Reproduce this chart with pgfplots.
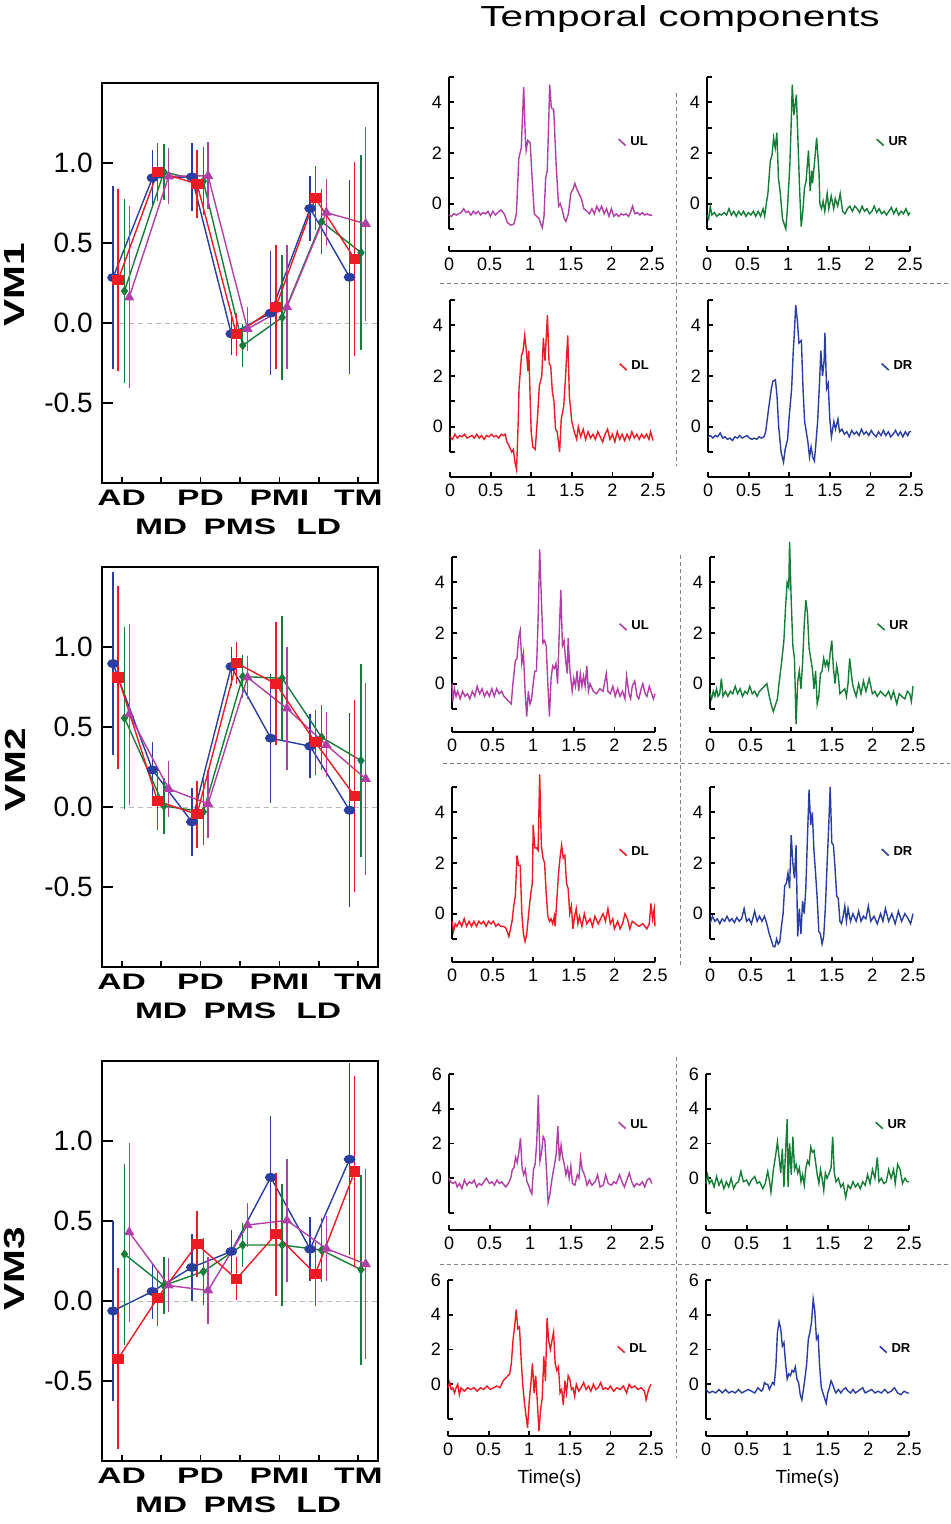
\documentclass[border=0pt]{standalone}
\usepackage{fontspec}
\setmainfont{Liberation Sans}
\usepackage{graphicx}
\usepackage{pgfplots}
\pgfplotsset{compat=1.18}
\definecolor{vblue}{RGB}{40,62,160}
\definecolor{vred}{RGB}{237,28,36}
\definecolor{vgreen}{RGB}{22,125,55}
\definecolor{vmag}{RGB}{178,62,168}
\newcommand\wide[1]{\scalebox{1.5}[1]{#1}}
\pgfplotsset{
  vm/.style={
    scale only axis, width=138pt, height=200pt,
    xmin=0.5, xmax=7.5, ymin=-1, ymax=1.5,
    xtick={1,2,3,4,5,6,7},
    xticklabels={{\wide{AD}\\\phantom{M}},{\phantom{M}\\\wide{MD}},{\wide{PD}\\\phantom{M}},{\phantom{M}\\\wide{PMS}},{\wide{PMI}\\\phantom{M}},{\phantom{M}\\\wide{LD}},{\wide{TM}\\\phantom{M}}},
    xticklabel style={font=\fontsize{11.2}{14.5}\selectfont\bfseries, align=center, anchor=north, inner sep=0pt, yshift=-3.5pt},
    ytick={-0.5,0,0.5,1}, yticklabels={-0.5,0.0,0.5,1.0},
    yticklabel style={font=\fontsize{14}{16}\selectfont, inner sep=0pt, xshift=-4.5pt},
    tick align=inside, xtick pos=left, ytick pos=left,
    major tick length=5.5pt,
    xtick style={/pgfplots/major tick length=3pt},
    axis line style={line width=1pt},
    tick style={line width=0.9pt, black},
    every axis plot/.append style={line width=0.7pt},
  },
  eb/.style={error bars/.cd, y dir=both, y explicit, error bar style={line width=0.7pt, solid}, error mark options={line width=0.7pt, mark size=1.5pt}},
  bl/.style={vblue, mark=*, mark size=1.9pt, mark options={solid, xscale=1.35}},
  rd/.style={vred, mark=square*, mark size=2.2pt, mark options={solid, xscale=1.15}},
  gr/.style={vgreen, mark=diamond*, mark size=1.9pt, mark options={solid}},
  mg/.style={vmag, mark=triangle*, mark size=2.3pt, mark options={solid}},
  zl/.style={gray!55, dash pattern=on 2.5pt off 2pt, line width=0.5pt, forget plot},
  tc/.style={
    scale only axis, width=101.5pt,
    xmin=0, xmax=2.5, clip=false,
    axis lines=left, axis line style={-, line width=0.8pt},
    axis x line shift=11.5pt,
    xtick={0,0.5,1,1.5,2,2.5}, xticklabels={0,0.5,1,1.5,2,2.5},
    tick align=inside, major tick length=2.5pt,
    tick style={line width=0.9pt, black},
    ticklabel style={font=\fontsize{9}{10}\selectfont},
    legend style={draw=none, fill=none, font=\fontsize{6.5}{7}\selectfont\bfseries, anchor=west, inner sep=0pt},
    legend image code/.code={\draw[#1, line width=0.8pt] (0pt,1.6pt) -- (3.5pt,-1.6pt);},
    every axis plot/.append style={line width=0.7pt},
  },
  tc12/.style={tc, height=76pt, ymin=-1, ymax=5, ytick={-1,0,1,2,3,4,5}, yticklabels={,0,,2,,4,}},
  tc3/.style={tc, height=69.5pt, ymin=-2, ymax=6, ytick={-2,0,2,4,6}, yticklabels={,0,2,4,6}, axis x line shift=8.5pt},
}
\begin{document}
\begin{tikzpicture}
\path[use as bounding box] (0,0) rectangle (475pt,-762pt);

% ---------------- VM1 ----------------
\begin{axis}[vm, at={(51pt,-241.5pt)}, anchor=south west]
\addplot[zl] coordinates {(0.95,0) (7.5,0)};
\addplot[bl, eb] coordinates {(0.78,0.284)+-(0,0.555) (1.78,0.907)+-(0,0.155) (2.78,0.913)+-(0,0.193) (3.78,-0.068)+-(0,0.115) (4.78,0.062)+-(0,0.37) (5.78,0.716)+-(0,0.185) (6.78,0.286)+-(0,0.588)};
\addplot[gr, eb] coordinates {(1.07,0.2)+-(0,0.555) (2.07,0.944)+-(0,0.155) (3.07,0.886)+-(0,0.195) (4.07,-0.14)+-(0,0.115) (5.07,0.035)+-(0,0.37) (6.07,0.633)+-(0,0.185) (7.07,0.44)+-(0,0.59)};
\addplot[mg, eb] coordinates {(1.19,0.16)+-(0,0.55) (2.19,0.917)+-(0,0.155) (3.19,0.92)+-(0,0.19) (4.19,-0.037)+-(0,0.117) (5.19,0.1)+-(0,0.37) (6.19,0.69)+-(0,0.19) (7.19,0.62)+-(0,0.588)};
\addplot[rd, eb] coordinates {(0.91,0.27)+-(0,0.55) (1.91,0.944)+-(0,0.16) (2.91,0.87)+-(0,0.195) (3.91,-0.07)+-(0,0.115) (4.91,0.1)+-(0,0.37) (5.91,0.78)+-(0,0.18) (6.91,0.4)+-(0,0.59)};
\end{axis}

% ---------------- VM2 ----------------
\begin{axis}[vm, at={(51pt,-483.5pt)}, anchor=south west]
\addplot[zl] coordinates {(0.95,0) (7.5,0)};
\addplot[bl, eb] coordinates {(0.78,0.896)+-(0,0.554) (1.78,0.232)+-(0,0.156) (2.78,-0.093)+-(0,0.193) (3.78,0.878)+-(0,0.105) (4.78,0.43)+-(0,0.384) (5.78,0.38)+-(0,0.18) (6.78,-0.02)+-(0,0.587)};
\addplot[gr, eb] coordinates {(1.07,0.556)+-(0,0.552) (2.07,0.006)+-(0,0.158) (3.07,-0.03)+-(0,0.189) (4.07,0.815)+-(0,0.115) (5.07,0.805)+-(0,0.367) (6.07,0.436)+-(0,0.185) (7.07,0.29)+-(0,0.582)};
\addplot[mg, eb] coordinates {(1.19,0.58)+-(0,0.547) (2.19,0.114)+-(0,0.155) (3.19,0.02)+-(0,0.193) (4.19,0.81)+-(0,0.114) (5.19,0.616)+-(0,0.368) (6.19,0.388)+-(0,0.184) (7.19,0.176)+-(0,0.58)};
\addplot[rd, eb] coordinates {(0.91,0.81)+-(0,0.553) (1.91,0.037)+-(0,0.16) (2.91,-0.046)+-(0,0.19) (3.91,0.9)+-(0,0.115) (4.91,0.77)+-(0,0.365) (5.91,0.405)+-(0,0.185) (6.91,0.068)+-(0,0.58)};
\end{axis}

% ---------------- VM3 ----------------
\begin{axis}[vm, at={(51pt,-730.5pt)}, anchor=south west]
\addplot[zl] coordinates {(0.95,0) (7.5,0)};
\addplot[bl, eb] coordinates {(0.78,-0.062)+-(0,0.545) (1.78,0.06)+-(0,0.153) (2.78,0.21)+-(0,0.19) (3.78,0.31)+-(0,0.114) (4.78,0.773)+-(0,0.365) (5.78,0.324)+-(0,0.181) (6.78,0.886)+-(0,0.58)};
\addplot[gr, eb] coordinates {(1.07,0.293)+-(0,0.547) (2.07,0.097)+-(0,0.157) (3.07,0.184)+-(0,0.191) (4.07,0.35)+-(0,0.118) (5.07,0.35)+-(0,0.362) (6.07,0.318)+-(0,0.179) (7.07,0.196)+-(0,0.575)};
\addplot[mg, eb] coordinates {(1.19,0.43)+-(0,0.54) (2.19,0.097)+-(0,0.15) (3.19,0.066)+-(0,0.188) (4.19,0.475)+-(0,0.117) (5.19,0.504)+-(0,0.364) (6.19,0.328)+-(0,0.185) (7.19,0.231)+-(0,0.577)};
\addplot[rd, eb] coordinates {(0.91,-0.36)+-(0,0.545) (1.91,0.019)+-(0,0.155) (2.91,0.355)+-(0,0.189) (3.91,0.138)+-(0,0.116) (4.91,0.417)+-(0,0.367) (5.91,0.169)+-(0,0.183) (6.91,0.81)+-(0,0.58)};
\end{axis}

% ---------------- VM1 temporal ----------------
\begin{axis}[tc12, at={(224.5pt,-114.5pt)}, anchor=south west, axis x line shift=11pt, legend style={at={(0.83,0.57)}}]
\addplot[vmag] coordinates {(0,-0.45)(0.03,-0.5)(0.06,-0.4)(0.09,-0.45)(0.12,-0.4)(0.15,-0.35)(0.18,-0.2)(0.21,-0.35)(0.24,-0.3)(0.27,-0.45)(0.3,-0.3)(0.33,-0.4)(0.36,-0.3)(0.39,-0.45)(0.42,-0.35)(0.45,-0.4)(0.48,-0.3)(0.51,-0.5)(0.54,-0.3)(0.57,-0.45)(0.6,-0.35)(0.64,-0.25)(0.68,-0.4)(0.72,-0.75)(0.76,-0.85)(0.8,-0.8)(0.83,-0.4)(0.86,1.8)(0.89,2.2)(0.92,4.6)(0.94,2.6)(0.95,2.1)(0.97,2.5)(1.0,2.4)(1.02,1.2)(1.05,-0.4)(1.08,-0.5)(1.11,-0.6)(1.13,-0.8)(1.15,-0.95)(1.17,-0.5)(1.19,1.0)(1.21,1.3)(1.23,3.5)(1.24,4.7)(1.26,3.8)(1.29,3.7)(1.32,1.5)(1.35,-0.1)(1.37,0.0)(1.39,-0.2)(1.42,-0.6)(1.44,-0.7)(1.47,-0.4)(1.5,0.4)(1.53,0.6)(1.55,0.8)(1.57,0.6)(1.6,0.4)(1.63,0.2)(1.66,-0.2)(1.7,-0.3)(1.73,-0.4)(1.76,-0.2)(1.79,-0.4)(1.82,-0.1)(1.85,-0.3)(1.88,-0.1)(1.91,-0.4)(1.94,-0.2)(1.97,-0.5)(2.0,-0.2)(2.03,-0.5)(2.06,-0.4)(2.09,-0.5)(2.12,-0.4)(2.15,-0.45)(2.18,-0.4)(2.21,-0.5)(2.24,-0.3)(2.26,-0.1)(2.29,-0.4)(2.32,-0.35)(2.35,-0.45)(2.38,-0.35)(2.41,-0.45)(2.44,-0.4)(2.47,-0.45)(2.5,-0.45)};
\addlegendentry{UL}
\end{axis}
\begin{axis}[tc12, at={(353.5pt,-114.5pt)}, anchor=south west, axis x line shift=11pt, legend style={at={(0.83,0.57)}}]
\addplot[vgreen] coordinates {(0,-0.45)(0.02,-0.6)(0.04,-0.1)(0.06,-0.45)(0.09,-0.35)(0.12,-0.5)(0.15,-0.4)(0.18,-0.45)(0.21,-0.35)(0.24,-0.45)(0.27,-0.2)(0.3,-0.45)(0.33,-0.3)(0.36,-0.5)(0.39,-0.3)(0.42,-0.45)(0.45,-0.3)(0.48,-0.5)(0.51,-0.35)(0.54,-0.45)(0.57,-0.3)(0.6,-0.5)(0.63,-0.3)(0.66,-0.5)(0.69,-0.2)(0.71,-0.5)(0.73,0.0)(0.75,0.4)(0.78,1.7)(0.8,1.9)(0.82,2.6)(0.84,2.2)(0.86,2.8)(0.88,1.0)(0.9,0.5)(0.93,-0.6)(0.95,-0.8)(0.97,-1.0)(0.99,-0.2)(1.02,1.5)(1.04,3.5)(1.05,4.7)(1.07,3.5)(1.1,4.3)(1.12,2.5)(1.14,0.6)(1.16,-0.9)(1.18,-0.3)(1.2,0.6)(1.22,0.9)(1.25,2.1)(1.27,0.5)(1.29,1.3)(1.3,0.8)(1.32,1.5)(1.35,2.6)(1.38,1.2)(1.39,0.0)(1.41,-0.2)(1.43,0.1)(1.45,-0.3)(1.48,0.4)(1.5,-0.2)(1.53,0.3)(1.56,-0.2)(1.58,0.2)(1.61,-0.1)(1.64,0.4)(1.67,-0.3)(1.7,-0.4)(1.73,-0.2)(1.76,-0.1)(1.79,-0.3)(1.82,-0.1)(1.85,-0.2)(1.88,-0.35)(1.91,-0.1)(1.94,-0.3)(1.97,-0.2)(2.0,-0.4)(2.03,-0.3)(2.06,-0.1)(2.09,-0.35)(2.12,-0.2)(2.15,-0.4)(2.18,-0.3)(2.21,-0.45)(2.24,-0.3)(2.27,-0.15)(2.3,-0.4)(2.33,-0.2)(2.36,-0.45)(2.39,-0.3)(2.42,-0.4)(2.45,-0.2)(2.48,-0.45)(2.5,-0.35)};
\addlegendentry{UR}
\end{axis}
\begin{axis}[tc12, at={(225pt,-226pt)}, anchor=south west, axis x line shift=12.5pt, legend style={at={(0.83,0.56)}}]
\addplot[vred] coordinates {(0,-0.4)(0.03,-0.5)(0.06,-0.3)(0.09,-0.45)(0.12,-0.35)(0.15,-0.4)(0.18,-0.3)(0.21,-0.45)(0.24,-0.4)(0.27,-0.35)(0.3,-0.45)(0.33,-0.3)(0.36,-0.45)(0.39,-0.35)(0.42,-0.5)(0.45,-0.35)(0.48,-0.4)(0.51,-0.3)(0.54,-0.4)(0.57,-0.35)(0.6,-0.45)(0.63,-0.3)(0.66,-0.35)(0.68,-0.3)(0.7,-0.6)(0.72,-0.7)(0.74,-0.85)(0.76,-1.0)(0.78,-0.9)(0.8,-1.4)(0.82,-1.7)(0.84,0.2)(0.85,1.5)(0.88,2.8)(0.9,3.0)(0.92,3.6)(0.94,3.0)(0.96,2.2)(0.97,3.0)(0.99,0.8)(1.0,-0.2)(1.02,-0.8)(1.05,-0.9)(1.08,0.5)(1.1,1.6)(1.13,2.0)(1.15,3.5)(1.17,2.6)(1.2,4.4)(1.22,2.5)(1.24,2.4)(1.26,1.4)(1.28,1.0)(1.3,-0.1)(1.32,-0.2)(1.35,-1.0)(1.37,0.3)(1.4,0.8)(1.42,1.8)(1.45,3.6)(1.47,1.2)(1.5,0.2)(1.53,-0.2)(1.56,-0.5)(1.58,0.0)(1.61,-0.4)(1.64,-0.1)(1.67,-0.5)(1.7,-0.2)(1.73,-0.45)(1.76,-0.3)(1.79,-0.5)(1.82,-0.2)(1.85,-0.4)(1.88,-0.6)(1.91,-0.3)(1.94,-0.1)(1.97,-0.5)(2.0,-0.3)(2.03,-0.6)(2.06,-0.2)(2.09,-0.5)(2.12,-0.3)(2.15,-0.55)(2.18,-0.3)(2.21,-0.5)(2.24,-0.2)(2.27,-0.45)(2.3,-0.3)(2.33,-0.5)(2.36,-0.3)(2.39,-0.45)(2.42,-0.3)(2.45,-0.5)(2.47,-0.2)(2.5,-0.55)};
\addlegendentry{DL}
\end{axis}
\begin{axis}[tc12, at={(354pt,-226pt)}, anchor=south west, axis x line shift=12.5pt, legend style={at={(0.85,0.56)}}]
\addplot[vblue] coordinates {(0,-0.4)(0.03,-0.35)(0.06,-0.45)(0.09,-0.35)(0.12,-0.4)(0.15,-0.25)(0.18,-0.45)(0.21,-0.4)(0.24,-0.5)(0.27,-0.45)(0.3,-0.55)(0.33,-0.4)(0.36,-0.45)(0.39,-0.35)(0.42,-0.45)(0.45,-0.4)(0.48,-0.35)(0.51,-0.45)(0.54,-0.5)(0.57,-0.45)(0.6,-0.5)(0.63,-0.4)(0.66,-0.45)(0.69,-0.4)(0.71,-0.2)(0.73,0.3)(0.75,0.8)(0.78,1.5)(0.8,1.8)(0.83,1.85)(0.85,1.2)(0.87,0.0)(0.9,-1.0)(0.93,-1.4)(0.95,-0.9)(0.98,-0.5)(1.0,0.4)(1.03,1.5)(1.05,3.0)(1.06,3.5)(1.08,4.8)(1.1,4.2)(1.12,3.3)(1.15,3.4)(1.17,1.5)(1.19,0.2)(1.21,-0.2)(1.23,-0.6)(1.25,-1.2)(1.27,-0.8)(1.29,-1.2)(1.31,-1.35)(1.33,-0.6)(1.35,0.2)(1.37,1.5)(1.39,3.0)(1.41,2.0)(1.43,2.6)(1.44,3.7)(1.46,1.5)(1.48,1.7)(1.5,0.3)(1.52,-0.4)(1.55,0.2)(1.57,-0.1)(1.6,0.3)(1.62,-0.2)(1.65,-0.1)(1.68,-0.3)(1.71,-0.2)(1.74,-0.4)(1.77,-0.15)(1.8,-0.3)(1.83,-0.2)(1.86,-0.35)(1.89,-0.1)(1.92,-0.3)(1.95,-0.2)(1.98,-0.35)(2.01,-0.15)(2.04,-0.3)(2.07,-0.4)(2.1,-0.2)(2.13,-0.35)(2.16,-0.15)(2.19,-0.35)(2.22,-0.2)(2.25,-0.4)(2.28,-0.3)(2.31,-0.15)(2.34,-0.35)(2.37,-0.2)(2.4,-0.4)(2.43,-0.2)(2.46,-0.35)(2.48,-0.2)(2.5,-0.2)};
\addlegendentry{DR}
\end{axis}

% ---------------- VM2 temporal ----------------
\begin{axis}[tc12, at={(226pt,-354.5pt)}, anchor=south west, legend style={at={(0.82,0.54)}}]
\addplot[vmag] coordinates {(0,0.0)(0.01,-0.7)(0.03,-0.2)(0.05,-0.5)(0.07,-0.3)(0.1,-0.6)(0.13,-0.3)(0.16,-0.5)(0.19,-0.4)(0.22,-0.6)(0.25,-0.3)(0.28,-0.5)(0.31,-0.1)(0.34,-0.4)(0.37,-0.2)(0.4,-0.5)(0.43,-0.3)(0.46,-0.5)(0.49,-0.2)(0.52,-0.5)(0.55,-0.2)(0.58,-0.4)(0.61,-0.3)(0.64,-0.5)(0.67,-0.6)(0.7,-0.7)(0.73,-0.8)(0.75,0.0)(0.78,0.9)(0.8,1.0)(0.82,1.8)(0.84,2.1)(0.86,0.8)(0.88,1.2)(0.9,-0.3)(0.92,-1.3)(0.94,-0.3)(0.96,-0.8)(0.98,-0.6)(1.0,0.0)(1.02,0.5)(1.04,0.5)(1.06,2.5)(1.08,5.3)(1.1,3.4)(1.12,1.6)(1.14,1.7)(1.16,1.5)(1.18,0.0)(1.2,-1.3)(1.22,0.2)(1.24,0.7)(1.26,0.6)(1.28,0.8)(1.3,0.0)(1.32,1.9)(1.34,3.7)(1.36,1.5)(1.38,1.7)(1.4,0.9)(1.42,0.4)(1.43,1.8)(1.45,0.6)(1.48,-0.3)(1.5,0.2)(1.52,-0.1)(1.54,0.5)(1.56,-0.3)(1.58,0.4)(1.6,-0.1)(1.62,0.3)(1.64,-0.1)(1.66,0.7)(1.68,-0.3)(1.7,0.0)(1.74,-0.3)(1.78,-0.4)(1.82,-0.2)(1.86,-0.3)(1.9,0.4)(1.92,-0.3)(1.95,-0.4)(1.98,-0.1)(2.01,-0.5)(2.04,-0.2)(2.07,-0.5)(2.1,-0.3)(2.13,-0.6)(2.15,0.3)(2.18,-0.4)(2.2,-0.6)(2.22,-0.1)(2.25,0.1)(2.28,-0.5)(2.3,-0.6)(2.33,-0.2)(2.35,0.0)(2.38,-0.4)(2.4,-0.5)(2.43,-0.1)(2.45,-0.3)(2.48,-0.6)(2.5,-0.4)};
\addlegendentry{UL}
\end{axis}
\begin{axis}[tc12, at={(355pt,-354.5pt)}, anchor=south west, legend style={at={(0.82,0.54)}}]
\addplot[vgreen] coordinates {(0,-0.4)(0.02,-0.6)(0.04,-0.3)(0.06,-0.5)(0.08,-0.2)(0.1,-0.5)(0.12,-0.4)(0.14,0.2)(0.16,-0.5)(0.19,-0.3)(0.22,-0.5)(0.25,-0.3)(0.28,-0.4)(0.31,-0.1)(0.34,-0.4)(0.37,-0.2)(0.4,-0.5)(0.43,-0.3)(0.46,-0.4)(0.49,-0.1)(0.52,-0.4)(0.55,-0.3)(0.58,-0.5)(0.61,-0.3)(0.64,-0.2)(0.67,-0.1)(0.7,0.0)(0.73,-0.5)(0.76,-0.9)(0.78,-1.1)(0.8,-0.9)(0.83,-0.6)(0.85,0.0)(0.88,0.8)(0.91,1.7)(0.93,3.0)(0.95,4.0)(0.97,3.8)(0.98,5.6)(1.0,3.3)(1.02,1.5)(1.04,1.0)(1.06,-1.6)(1.08,0.1)(1.1,0.5)(1.12,-0.2)(1.14,0.8)(1.16,2.3)(1.18,3.3)(1.2,2.8)(1.22,1.4)(1.24,1.0)(1.26,0.6)(1.28,-0.2)(1.3,0.5)(1.32,-0.8)(1.34,-0.5)(1.36,0.4)(1.38,0.5)(1.4,1.0)(1.42,0.7)(1.44,0.9)(1.46,0.6)(1.48,1.2)(1.5,1.7)(1.52,0.6)(1.54,0.0)(1.56,0.7)(1.58,0.3)(1.6,-0.4)(1.63,-0.3)(1.66,-0.2)(1.68,-0.5)(1.7,0.0)(1.72,1.0)(1.74,0.4)(1.76,-0.1)(1.8,-0.5)(1.83,0.0)(1.86,-0.4)(1.89,0.1)(1.92,-0.3)(1.96,0.2)(2.0,-0.4)(2.03,-0.3)(2.06,-0.5)(2.1,-0.3)(2.13,-0.4)(2.16,-0.5)(2.2,-0.3)(2.23,-0.6)(2.26,-0.3)(2.3,-0.8)(2.33,-0.4)(2.36,-0.5)(2.4,-0.6)(2.43,-0.3)(2.46,-0.4)(2.48,-0.7)(2.5,-0.1)};
\addlegendentry{UR}
\end{axis}
\begin{axis}[tc12, at={(226pt,-469.5pt)}, anchor=south west, legend style={at={(0.82,0.57)}}]
\addplot[vred] coordinates {(0,-0.3)(0.02,-0.7)(0.04,-0.4)(0.06,-0.5)(0.09,-0.3)(0.12,-0.5)(0.15,-0.2)(0.18,-0.5)(0.21,-0.3)(0.24,-0.5)(0.27,-0.3)(0.3,-0.5)(0.33,-0.3)(0.36,-0.4)(0.39,-0.3)(0.42,-0.5)(0.45,-0.3)(0.48,-0.4)(0.51,-0.3)(0.54,-0.5)(0.57,-0.4)(0.6,-0.5)(0.63,-0.5)(0.66,-0.55)(0.68,-0.7)(0.7,-0.9)(0.72,-0.6)(0.74,-0.3)(0.76,0.3)(0.78,0.7)(0.8,2.3)(0.82,1.9)(0.84,1.9)(0.86,0.0)(0.88,-0.8)(0.9,-1.1)(0.92,-0.8)(0.95,0.2)(0.97,0.8)(0.99,1.2)(1.0,3.5)(1.02,2.6)(1.04,2.6)(1.06,2.5)(1.08,5.5)(1.1,2.7)(1.12,2.2)(1.14,2.0)(1.16,0.8)(1.18,-0.1)(1.2,-0.3)(1.22,-0.2)(1.24,-0.4)(1.26,-0.1)(1.27,-0.5)(1.29,0.5)(1.31,1.5)(1.33,2.2)(1.35,2.7)(1.37,2.2)(1.39,2.3)(1.41,1.2)(1.43,1.0)(1.45,0.0)(1.47,0.3)(1.49,-0.6)(1.51,-0.1)(1.53,0.2)(1.55,-0.4)(1.57,-0.1)(1.6,-0.5)(1.63,0.0)(1.66,-0.4)(1.7,-0.2)(1.73,-0.5)(1.76,-0.1)(1.8,-0.4)(1.83,-0.2)(1.86,0.0)(1.89,-0.3)(1.92,0.2)(1.95,-0.4)(1.98,-0.2)(2.0,-0.6)(2.04,-0.3)(2.07,-0.6)(2.1,-0.4)(2.13,0.0)(2.16,-0.2)(2.19,-0.6)(2.22,-0.3)(2.26,-0.4)(2.3,-0.5)(2.35,-0.4)(2.4,-0.6)(2.43,-0.4)(2.45,0.4)(2.47,-0.2)(2.49,0.2)(2.5,-0.5)};
\addlegendentry{DL}
\end{axis}
\begin{axis}[tc12, at={(355pt,-469.5pt)}, anchor=south west, legend style={at={(0.84,0.57)}}]
\addplot[vblue] coordinates {(0,-0.4)(0.03,-0.1)(0.06,-0.3)(0.09,-0.2)(0.12,-0.4)(0.15,-0.2)(0.18,-0.3)(0.21,-0.1)(0.24,-0.3)(0.27,-0.2)(0.3,-0.35)(0.33,-0.15)(0.36,-0.3)(0.39,-0.2)(0.42,0.2)(0.45,-0.3)(0.48,-0.2)(0.51,-0.4)(0.55,0.1)(0.58,-0.3)(0.61,-0.1)(0.64,-0.3)(0.67,-0.1)(0.7,-0.4)(0.73,-0.8)(0.75,-1.0)(0.78,-1.3)(0.8,-1.3)(0.82,-1.0)(0.84,-1.2)(0.86,-1.1)(0.88,-0.5)(0.9,0.0)(0.92,1.1)(0.94,1.2)(0.96,1.6)(0.98,1.0)(1.0,3.1)(1.02,2.0)(1.04,1.4)(1.06,2.7)(1.08,-0.9)(1.1,0.2)(1.12,-0.8)(1.14,0.5)(1.16,0.0)(1.18,1.0)(1.2,3.0)(1.22,4.9)(1.24,3.5)(1.26,4.0)(1.28,2.5)(1.3,1.6)(1.32,0.6)(1.34,-0.7)(1.36,-0.8)(1.38,-1.2)(1.4,-0.9)(1.42,0.2)(1.44,1.8)(1.46,3.3)(1.48,5.0)(1.5,2.8)(1.52,2.7)(1.54,1.8)(1.56,0.7)(1.58,0.6)(1.6,-0.3)(1.62,-0.4)(1.64,-0.1)(1.66,0.3)(1.68,-0.3)(1.7,0.2)(1.73,-0.3)(1.76,0.0)(1.8,-0.3)(1.83,0.1)(1.86,-0.3)(1.89,-0.1)(1.92,-0.2)(1.95,0.3)(1.98,-0.3)(2.02,-0.1)(2.06,-0.4)(2.1,0.0)(2.13,-0.3)(2.16,0.2)(2.2,-0.3)(2.24,0.0)(2.28,-0.4)(2.32,0.1)(2.36,-0.3)(2.4,0.0)(2.44,-0.2)(2.47,-0.4)(2.5,0.0)};
\addlegendentry{DR}
\end{axis}

% ---------------- VM3 temporal ----------------
\begin{axis}[tc3, at={(224.5pt,-606.5pt)}, anchor=south west, legend style={at={(0.83,0.63)}}]
\addplot[vmag] coordinates {(0,0.0)(0.02,-0.2)(0.05,-0.3)(0.08,-0.2)(0.1,-0.5)(0.13,-0.3)(0.16,-0.6)(0.19,-0.1)(0.22,-0.4)(0.25,-0.2)(0.28,-0.3)(0.31,-0.1)(0.34,-0.5)(0.37,-0.3)(0.4,-0.4)(0.43,-0.2)(0.46,0.0)(0.5,-0.3)(0.53,-0.2)(0.56,-0.4)(0.59,-0.1)(0.62,-0.3)(0.65,-0.2)(0.68,-0.4)(0.7,-0.5)(0.73,-0.3)(0.76,0.0)(0.78,0.5)(0.8,0.6)(0.82,1.2)(0.84,0.9)(0.86,1.5)(0.88,2.3)(0.9,0.6)(0.92,0.2)(0.94,0.5)(0.96,-0.2)(0.98,-0.4)(1.0,-0.7)(1.02,-0.9)(1.04,0.5)(1.06,0.8)(1.08,2.0)(1.1,4.8)(1.12,1.0)(1.14,1.5)(1.16,2.4)(1.18,2.2)(1.2,0.5)(1.22,-1.4)(1.24,-1.0)(1.26,-0.3)(1.28,0.3)(1.3,0.8)(1.32,1.4)(1.34,3.0)(1.36,1.0)(1.38,1.9)(1.4,1.2)(1.42,0.8)(1.44,0.2)(1.46,0.6)(1.48,0.0)(1.5,0.7)(1.52,-0.3)(1.55,-0.4)(1.58,0.2)(1.6,0.0)(1.62,1.2)(1.64,0.5)(1.66,0.3)(1.68,0.0)(1.7,-0.4)(1.73,-0.1)(1.76,-0.4)(1.8,-0.2)(1.83,0.2)(1.86,-0.5)(1.9,-0.4)(1.93,0.2)(1.96,-0.3)(2.0,-0.4)(2.03,-0.2)(2.06,-0.3)(2.1,0.2)(2.13,-0.2)(2.16,-0.5)(2.19,-0.1)(2.22,0.3)(2.25,-0.2)(2.28,-0.5)(2.31,-0.3)(2.35,-0.4)(2.38,-0.2)(2.41,-0.5)(2.44,-0.1)(2.47,0.0)(2.5,-0.3)};
\addlegendentry{UL}
\end{axis}
\begin{axis}[tc3, at={(353pt,-606.5pt)}, anchor=south west, legend style={at={(0.83,0.63)}}]
\addplot[vgreen] coordinates {(0,-0.3)(0.02,0.2)(0.04,-0.3)(0.07,-0.1)(0.1,-0.5)(0.13,0.1)(0.16,-0.4)(0.19,-0.1)(0.22,-0.6)(0.25,-0.2)(0.28,-0.5)(0.31,0.0)(0.34,-0.6)(0.37,-0.3)(0.4,-0.2)(0.43,0.4)(0.46,-0.2)(0.5,-0.1)(0.53,-0.4)(0.56,-0.1)(0.6,0.1)(0.63,-0.3)(0.66,-0.2)(0.7,-0.6)(0.73,-0.3)(0.76,0.4)(0.78,-0.1)(0.8,-0.8)(0.83,0.5)(0.86,1.4)(0.88,2.1)(0.9,1.2)(0.92,0.3)(0.94,1.7)(0.96,-0.5)(0.98,1.6)(1.0,3.4)(1.01,-0.5)(1.03,2.0)(1.05,0.2)(1.07,2.4)(1.09,0.5)(1.11,0.8)(1.13,0.3)(1.15,0.6)(1.17,-0.2)(1.19,0.2)(1.21,-0.4)(1.23,0.6)(1.25,1.0)(1.27,0.8)(1.29,1.8)(1.31,1.5)(1.33,1.6)(1.35,0.9)(1.37,0.2)(1.39,-0.3)(1.41,0.5)(1.43,0.0)(1.45,-0.7)(1.47,0.3)(1.49,0.0)(1.51,0.2)(1.54,0.6)(1.56,2.4)(1.58,0.3)(1.6,-0.2)(1.63,0.0)(1.66,-0.5)(1.69,-0.3)(1.72,-1.1)(1.75,-0.4)(1.78,-0.6)(1.81,-0.2)(1.84,-0.5)(1.87,-0.3)(1.9,-0.6)(1.93,-0.2)(1.96,-0.4)(1.99,0.2)(2.02,-0.3)(2.05,0.5)(2.08,0.0)(2.11,1.2)(2.13,-0.2)(2.16,0.0)(2.19,-0.3)(2.22,-0.2)(2.25,0.5)(2.28,0.0)(2.31,0.5)(2.33,-0.3)(2.36,0.8)(2.39,0.5)(2.42,-0.3)(2.45,0.0)(2.48,-0.2)(2.5,-0.2)};
\addlegendentry{UR}
\end{axis}
\begin{axis}[tc3, at={(224pt,-709.5pt)}, anchor=south west, legend style={at={(0.83,0.5)}}, xlabel={Time(s)}, xlabel style={font=\fontsize{9.5}{11}\selectfont}]
\addplot[vred] coordinates {(0,-0.2)(0.02,0.1)(0.04,-0.3)(0.06,-0.2)(0.08,-0.5)(0.1,-0.2)(0.12,0.0)(0.14,-0.6)(0.16,-0.2)(0.2,-0.4)(0.24,-0.2)(0.28,-0.3)(0.32,-0.2)(0.36,-0.4)(0.4,-0.2)(0.44,-0.3)(0.48,-0.1)(0.52,-0.3)(0.56,-0.2)(0.6,-0.1)(0.64,-0.2)(0.68,0.2)(0.72,0.4)(0.74,0.5)(0.76,0.6)(0.78,1.2)(0.8,2.5)(0.82,3.3)(0.84,4.3)(0.86,3.2)(0.88,3.3)(0.9,1.5)(0.92,0.0)(0.94,-1.0)(0.96,-1.8)(0.98,-2.5)(1.0,-1.0)(1.02,0.0)(1.04,1.2)(1.06,-0.5)(1.08,0.5)(1.1,-1.0)(1.12,-2.7)(1.14,-1.5)(1.16,-0.8)(1.18,1.6)(1.2,0.2)(1.22,3.8)(1.24,2.5)(1.26,2.0)(1.28,2.5)(1.3,3.0)(1.32,1.2)(1.34,0.8)(1.36,1.0)(1.38,-0.5)(1.4,-0.3)(1.42,-1.2)(1.44,0.2)(1.46,-0.5)(1.48,0.5)(1.5,0.3)(1.52,-0.3)(1.54,-0.2)(1.56,-0.7)(1.58,0.0)(1.61,-0.4)(1.64,-0.2)(1.67,0.1)(1.7,-0.3)(1.73,-0.1)(1.76,-0.4)(1.79,0.0)(1.82,-0.3)(1.85,-0.2)(1.88,0.1)(1.91,-0.3)(1.94,-0.2)(1.97,-0.3)(2.0,-0.1)(2.04,-0.4)(2.08,-0.2)(2.12,-0.3)(2.16,-0.1)(2.2,-0.5)(2.23,0.0)(2.26,-0.2)(2.3,-0.1)(2.34,-0.3)(2.38,-0.2)(2.42,-0.4)(2.44,-0.9)(2.47,-0.3)(2.5,0.0)};
\addlegendentry{DL}
\end{axis}
\begin{axis}[tc3, at={(353pt,-709.5pt)}, anchor=south west, legend style={at={(0.85,0.5)}}, xlabel={Time(s)}, xlabel style={font=\fontsize{9.5}{11}\selectfont}]
\addplot[vblue] coordinates {(0,-0.3)(0.04,-0.5)(0.08,-0.4)(0.12,-0.5)(0.16,-0.3)(0.2,-0.5)(0.24,-0.3)(0.28,-0.5)(0.32,-0.4)(0.36,-0.5)(0.4,-0.3)(0.44,-0.5)(0.48,-0.4)(0.52,-0.3)(0.56,-0.4)(0.6,-0.5)(0.64,-0.2)(0.68,-0.4)(0.7,-0.3)(0.72,0.1)(0.74,0.0)(0.76,0.0)(0.78,-0.3)(0.8,-0.1)(0.82,0.1)(0.84,0.0)(0.86,1.0)(0.88,3.0)(0.9,3.6)(0.92,3.2)(0.94,2.2)(0.96,2.4)(0.98,1.2)(1.0,0.3)(1.02,0.6)(1.04,0.5)(1.06,0.8)(1.08,0.7)(1.1,1.0)(1.12,0.3)(1.14,0.1)(1.16,-0.6)(1.18,-0.9)(1.2,-0.3)(1.22,0.4)(1.24,1.2)(1.26,2.6)(1.28,3.0)(1.3,3.6)(1.32,4.9)(1.34,4.2)(1.36,2.6)(1.38,2.8)(1.4,1.0)(1.42,-0.2)(1.44,-0.5)(1.46,-0.8)(1.48,-1.1)(1.5,-0.5)(1.52,-0.2)(1.54,0.2)(1.56,0.0)(1.58,-0.3)(1.6,-0.5)(1.63,-0.3)(1.66,-0.5)(1.69,-0.3)(1.72,-0.2)(1.75,-0.4)(1.78,-0.5)(1.81,-0.3)(1.84,-0.5)(1.87,-0.4)(1.9,-0.3)(1.93,-0.2)(1.96,-0.5)(2.0,-0.4)(2.04,-0.3)(2.08,-0.5)(2.12,-0.4)(2.16,-0.5)(2.2,-0.3)(2.24,-0.5)(2.28,-0.4)(2.32,-0.2)(2.36,-0.5)(2.4,-0.6)(2.44,-0.4)(2.48,-0.5)(2.5,-0.5)};
\addlegendentry{DR}
\end{axis}

% ---------------- texts and separators ----------------
\node[anchor=base] at (340pt,-13.5pt) {\fontsize{14.5}{17}\selectfont\scalebox{1.4}[1]{Temporal components}};
\node[rotate=90] at (7.5pt,-142.5pt) {\fontsize{14.5}{17}\selectfont\bfseries\scalebox{1.4}[1]{VM1}};
\node[rotate=90] at (7.5pt,-385pt) {\fontsize{14.5}{17}\selectfont\bfseries\scalebox{1.4}[1]{VM2}};
\node[rotate=90] at (7.5pt,-634.5pt) {\fontsize{14.5}{17}\selectfont\bfseries\scalebox{1.4}[1]{VM3}};
\begin{scope}[gray, dash pattern=on 2pt off 1.5pt, line width=0.5pt]
\draw (338pt,-46.5pt) -- (338pt,-233pt);
\draw (220pt,-142pt) -- (475pt,-142pt);
\draw (340pt,-277.5pt) -- (340pt,-482.5pt);
\draw (221.5pt,-381.5pt) -- (475pt,-381.5pt);
\draw (338pt,-528.5pt) -- (338pt,-729pt);
\draw (220pt,-632pt) -- (475pt,-632pt);
\end{scope}
\end{tikzpicture}
\end{document}
